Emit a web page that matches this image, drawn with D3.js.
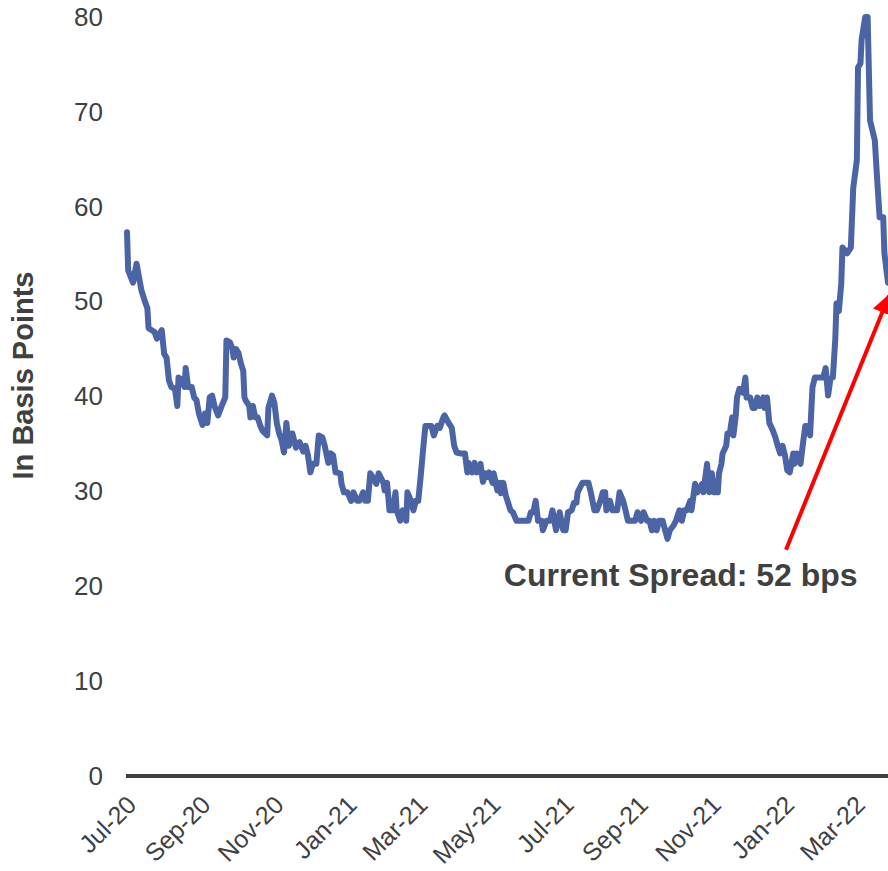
<!DOCTYPE html>
<html>
<head>
<meta charset="utf-8">
<script src="https://cdn.jsdelivr.net/npm/d3@7"></script>
<style>
  html, body { margin: 0; padding: 0; background: #ffffff; }
  svg { display: block; font-family: "Liberation Sans", Arial, sans-serif; }
</style>
</head>
<body>
<svg id="chart" width="888" height="871"></svg>
<script>
// Daily spread observations (basis points)
const dates = [
  "2020-07-01","2020-07-02","2020-07-06","2020-07-09","2020-07-13","2020-07-16","2020-07-18","2020-07-19","2020-07-24","2020-07-26",
  "2020-07-30","2020-08-01","2020-08-03","2020-08-05","2020-08-07","2020-08-10","2020-08-12","2020-08-13","2020-08-16","2020-08-18",
  "2020-08-19","2020-08-21","2020-08-24","2020-08-26","2020-08-28","2020-08-30","2020-09-02","2020-09-04","2020-09-06","2020-09-08",
  "2020-09-10","2020-09-12","2020-09-15","2020-09-18","2020-09-21","2020-09-22","2020-09-25","2020-09-27","2020-09-28","2020-09-30",
  "2020-10-02","2020-10-04","2020-10-06","2020-10-07","2020-10-08","2020-10-11","2020-10-12","2020-10-14","2020-10-16","2020-10-18",
  "2020-10-20","2020-10-22","2020-10-26","2020-10-27","2020-10-30","2020-11-01","2020-11-03","2020-11-05","2020-11-07","2020-11-09",
  "2020-11-11","2020-11-13","2020-11-16","2020-11-19","2020-11-22","2020-11-25","2020-11-27","2020-11-29","2020-12-01","2020-12-03",
  "2020-12-06","2020-12-08","2020-12-11","2020-12-13","2020-12-16","2020-12-18","2020-12-20","2020-12-22","2020-12-26","2020-12-27",
  "2020-12-29","2021-01-01","2021-01-04","2021-01-06","2021-01-09","2021-01-11","2021-01-14","2021-01-16","2021-01-18","2021-01-20",
  "2021-01-22","2021-01-25","2021-01-27","2021-01-31","2021-02-01","2021-02-03","2021-02-05","2021-02-08","2021-02-10","2021-02-11",
  "2021-02-14","2021-02-16","2021-02-19","2021-02-20","2021-02-23","2021-02-25","2021-02-27","2021-03-01","2021-03-03","2021-03-05",
  "2021-03-07","2021-03-09","2021-03-12","2021-03-14","2021-03-17","2021-03-19","2021-03-22","2021-03-23","2021-03-26","2021-03-29",
  "2021-03-31","2021-04-02","2021-04-05","2021-04-09","2021-04-11","2021-04-12","2021-04-15","2021-04-17","2021-04-19","2021-04-22",
  "2021-04-24","2021-04-26","2021-04-27","2021-04-29","2021-05-02","2021-05-03","2021-05-06","2021-05-08","2021-05-09","2021-05-11",
  "2021-05-13","2021-05-15","2021-05-17","2021-05-19","2021-05-22","2021-05-25","2021-05-29","2021-06-01","2021-06-03","2021-06-05",
  "2021-06-07","2021-06-09","2021-06-12","2021-06-13","2021-06-16","2021-06-19","2021-06-21","2021-06-24","2021-06-27","2021-06-30",
  "2021-07-02","2021-07-04","2021-07-07","2021-07-09","2021-07-11","2021-07-12","2021-07-16","2021-07-18","2021-07-21","2021-07-23",
  "2021-07-26","2021-07-28","2021-07-31","2021-08-02","2021-08-04","2021-08-05","2021-08-08","2021-08-10","2021-08-14","2021-08-16",
  "2021-08-19","2021-08-21","2021-08-23","2021-08-26","2021-08-29","2021-08-31","2021-09-03","2021-09-05","2021-09-08","2021-09-10",
  "2021-09-12","2021-09-14","2021-09-16","2021-09-18","2021-09-21","2021-09-23","2021-09-25","2021-09-27","2021-09-30","2021-10-02",
  "2021-10-05","2021-10-07","2021-10-09","2021-10-11","2021-10-14","2021-10-15","2021-10-18","2021-10-20","2021-10-24","2021-10-25",
  "2021-10-28","2021-10-30","2021-11-01","2021-11-03","2021-11-06","2021-11-07","2021-11-09","2021-11-10","2021-11-13","2021-11-14",
  "2021-11-16","2021-11-18","2021-11-19","2021-11-21","2021-11-22","2021-11-24","2021-11-27","2021-11-29","2021-11-30","2021-12-03",
  "2021-12-05","2021-12-07","2021-12-09","2021-12-11","2021-12-14","2021-12-15","2021-12-17","2021-12-19","2021-12-22","2021-12-24",
  "2021-12-26","2021-12-28","2021-12-30","2022-01-01","2022-01-03","2022-01-05","2022-01-08","2022-01-09","2022-01-11","2022-01-14",
  "2022-01-16","2022-01-18","2022-01-19","2022-01-22","2022-01-24","2022-01-26","2022-01-30","2022-02-02","2022-02-04","2022-02-06",
  "2022-02-08","2022-02-10","2022-02-12","2022-02-13","2022-02-15","2022-02-17","2022-02-18","2022-02-22","2022-02-25","2022-02-27",
  "2022-03-02","2022-03-03","2022-03-05","2022-03-06","2022-03-09","2022-03-11","2022-03-13","2022-03-17","2022-03-19","2022-03-21",
  "2022-03-24","2022-03-25","2022-03-28"
];

const spread = [
  57.3, 53.3, 52, 54, 51.2, 50, 49.3, 47.2, 46.8, 46.1,
  47, 44.5, 44.1, 41.7, 41, 40.8, 39, 42, 41.7, 41,
  43, 41, 41, 39.9, 39.6, 38.2, 37, 38.2, 37.2, 39.9,
  40.1, 39, 38, 39, 39.9, 45.9, 45.7, 45, 44.1, 45,
  44.6, 43.5, 42.7, 39.9, 39.6, 39, 37.8, 39, 37.8, 37.8,
  37, 36.4, 35.9, 38.8, 40.1, 39.3, 37.2, 36.1, 35.4, 34.1,
  37.2, 34.8, 36.1, 34.6, 35.2, 34.2, 34.8, 33.8, 32, 32.9,
  32.9, 35.9, 35.7, 34.8, 33, 34, 33.8, 32, 31.9, 30.8,
  29.9, 29.9, 29, 29.9, 29, 29, 29.9, 29, 29, 31.9,
  31.5, 30.8, 31.9, 30.9, 30.1, 30.9, 28, 28, 29.9, 28,
  26.9, 28, 26.9, 29.9, 29, 28, 29, 29, 31.5, 34.3,
  36.9, 36.9, 36.9, 35.9, 36.9, 36.7, 37.8, 38, 37.3, 36.7,
  34.8, 34.1, 34, 34, 32, 33, 32, 33, 32, 32.9,
  31, 31.9, 31.5, 32, 30.9, 31.9, 30.1, 30.9, 29.8, 30.9,
  29.6, 28.8, 28, 27.8, 26.9, 26.9, 26.9, 26.9, 27.8, 27.8,
  29, 26.9, 26.9, 25.9, 26.9, 26.9, 28, 25.9, 27.8, 25.9,
  25.9, 27.8, 28, 28.8, 28.8, 29.9, 30.9, 30.9, 30.9, 29.9,
  28, 28, 29, 29.9, 29.9, 28, 29, 28, 28, 29.9,
  29, 28, 26.9, 26.9, 26.9, 27.8, 26.9, 27.8, 26.9, 26.9,
  25.9, 26.9, 25.9, 26.9, 26.9, 25.9, 25, 25.9, 26.4, 26.9,
  28, 26.9, 28, 28, 29, 28, 30.8, 29.9, 30.8, 29.9,
  32.9, 29.9, 31.9, 29.9, 29.9, 31.9, 32.9, 34, 34.8, 36.1,
  36.1, 37.8, 35.9, 38, 39.9, 40.8, 40.4, 42, 39.9, 39.9,
  38.8, 38.8, 39.9, 39, 39.9, 38.8, 39.9, 37.2, 36.4, 35.7,
  34.8, 34, 34.8, 33.8, 32.2, 32, 34, 32.9, 34, 32.9,
  35, 36.9, 36.9, 35.9, 41, 42, 42, 42, 43, 40.1,
  41.9, 42, 46, 49.8, 49, 51.9, 55.7, 55.1, 55.7, 62,
  64.9, 74.7, 75.1, 77.6, 80, 80, 69.1, 67, 62.8, 58.9,
  58.9, 55.1, 52
];

const yTicks = [0, 10, 20, 30, 40, 50, 60, 70, 80];
const monthTicks = ["2020-07-01","2020-09-01","2020-11-01","2021-01-01","2021-03-01","2021-05-01",
                    "2021-07-01","2021-09-01","2021-11-01","2022-01-01","2022-03-01"];
const yTitle = "In Basis Points";
const calloutText = "Current Spread: 52 bps";

const parse = d3.utcParse("%Y-%m-%d");
const series = dates.map((d, i) => ({ date: parse(d), value: spread[i] }));

const svg = d3.select("#chart");
const textColor = "#404040";

const x = d3.scaleUtc()
  .domain([parse("2020-07-01"), parse("2022-03-28")])
  .range([127, 888]);

const y = d3.scaleLinear()
  .domain([0, 80])
  .range([776, 17]);

// Value axis labels (no axis line, no tick marks)
const yAxis = svg.append("g")
  .attr("transform", `translate(${x.range()[0]},0)`)
  .call(d3.axisLeft(y).tickValues(yTicks).tickSize(0).tickPadding(24));
yAxis.select(".domain").remove();
yAxis.selectAll("text")
  .attr("fill", textColor)
  .style("font-size", "26px")
  .style("font-family", "'Liberation Sans', Arial, sans-serif");

// Category axis: rotated month labels
const xAxis = svg.append("g")
  .attr("transform", `translate(0,${y(0)})`)
  .call(d3.axisBottom(x)
    .tickValues(monthTicks.map(parse))
    .tickFormat(d3.utcFormat("%b-%y"))
    .tickSize(0));
xAxis.select(".domain").remove();
xAxis.selectAll("text")
  .attr("fill", textColor)
  .style("font-size", "25px")
  .style("font-family", "'Liberation Sans', Arial, sans-serif")
  .attr("text-anchor", "end")
  .attr("dy", null)
  .attr("y", null)
  .attr("transform", "translate(4,24) rotate(-45)")
  .attr("dominant-baseline", "central");

// Baseline at zero
svg.append("line")
  .attr("x1", x.range()[0] - 1)
  .attr("x2", x.range()[1])
  .attr("y1", y(0))
  .attr("y2", y(0))
  .attr("stroke", textColor)
  .attr("stroke-width", 4);

// Spread line
const line = d3.line()
  .x(d => x(d.date))
  .y(d => y(d.value));

svg.append("path")
  .datum(series)
  .attr("d", line)
  .attr("fill", "none")
  .attr("stroke", "#4A64A6")
  .attr("stroke-width", 6)
  .attr("stroke-linejoin", "round")
  .attr("stroke-linecap", "round");

// Axis title
svg.append("text")
  .attr("transform", `translate(33,${(y(0) + y(80)) / 2 - 21}) rotate(-90)`)
  .attr("text-anchor", "middle")
  .attr("fill", textColor)
  .style("font-size", "29px")
  .style("font-weight", "bold")
  .text(yTitle);

// Callout pointing at the latest observation
const last = series[series.length - 1];
const tipX = x(last.date) + 1;
const tipY = y(last.value) + 13;
const startX = tipX - 103;
const startY = tipY + 254;

svg.append("defs").append("marker")
  .attr("id", "arrowhead")
  .attr("viewBox", "0 0 10 10")
  .attr("refX", 9)
  .attr("refY", 5)
  .attr("markerWidth", 5)
  .attr("markerHeight", 5)
  .attr("orient", "auto")
  .append("path")
  .attr("d", "M0,0 L10,5 L0,10 Z")
  .attr("fill", "#FF0000");

svg.append("line")
  .attr("x1", startX)
  .attr("y1", startY)
  .attr("x2", tipX)
  .attr("y2", tipY)
  .attr("stroke", "#FF0000")
  .attr("stroke-width", 4)
  .attr("marker-end", "url(#arrowhead)");

svg.append("text")
  .attr("x", x(parse("2022-03-01")) + 2)
  .attr("y", y(20))
  .attr("text-anchor", "end")
  .attr("fill", textColor)
  .style("font-size", "32px")
  .style("font-weight", "bold")
  .text(calloutText);
</script>
</body>
</html>
